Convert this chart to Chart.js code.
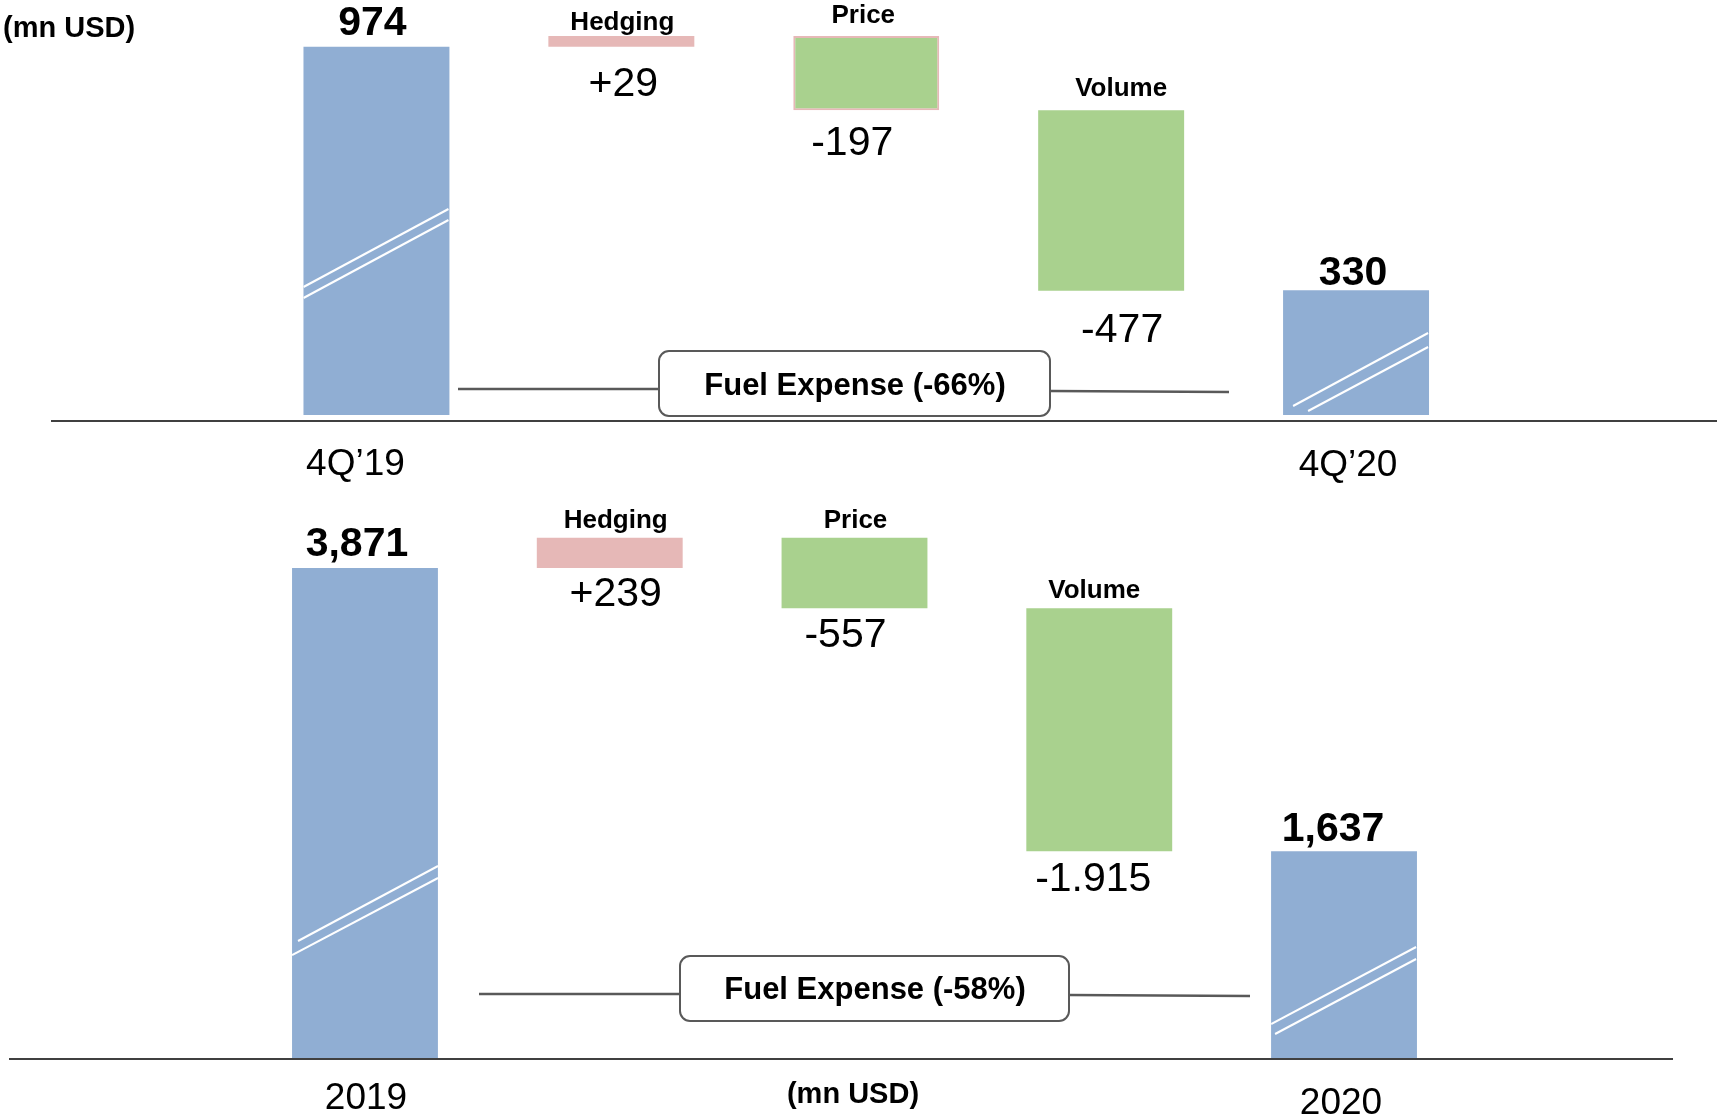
<!DOCTYPE html>
<html>
<head>
<meta charset="utf-8">
<script src="https://cdn.jsdelivr.net/npm/chart.js@4.4.1/dist/chart.umd.min.js"></script>
<style>
html, body { margin: 0; padding: 0; background: #fff; }
#wrap { position: relative; width: 1717px; height: 1115px; overflow: hidden; }
#wrap canvas { position: absolute; left: 0; }
</style>
</head>
<body>
<div id="wrap">
  <canvas id="topChart" width="1717" height="490" style="top:0"></canvas>
  <canvas id="bottomChart" width="1717" height="625" style="top:490px"></canvas>
</div>
<script>
// quarter bridge
var topCategories = ["4Q\u201919", "Hedging", "Price", "Volume", "4Q\u201920"];
var topValues = [974, 29, -197, -477, 330];
var topValueText = ["974", "+29", "-197", "-477", "330"];
var topNote = "Fuel Expense (-66%)";

// full year bridge
var bottomCategories = ["2019", "Hedging", "Price", "Volume", "2020"];
var bottomValues = [3871, 239, -557, -1915, 1637];
var bottomValueText = ["3,871", "+239", "-557", "-1.915", "1,637"];
var bottomNote = "Fuel Expense (-58%)";

var barKinds = ["total", "up", "down", "down", "total"];
var unitText = "(mn USD)";

var palette = { total: '#90AED3', up: '#E6B8B7', down: '#A9D18E' };
var FONT = '"Liberation Sans", Arial, sans-serif';

function buildRanges(values) {
    var run = 0, out = [];
    values.forEach(function (v, i) {
        if (barKinds[i] === 'total') { out.push([0, v]); run = v; }
        else { out.push([run, run + v]); run += v; }
    });
    return out;
}

var topLayout = {
    top: 0, padLeft: 254, padRight: 238.5, padBottom: 75, yMax: 1098,
    axisGap: 6, axisX0: 51, axisX1: 1717, axisBase: [475, 0, 0, 0, 476],
    valueGap: [12, 49, 44.5, 51, 5], nameGap: [0, 6, 13, 14, 0],
    valueDx: [-4, 2, -14, 11, -3], nameDx: [0, 1, -3, 10, 0], axisDx: [-21, 0, 0, 0, -8],
    box: { x: 659, y: 351, w: 391, h: 65, tx: 855, ty: 395 },
    leftLine: [458, 389, 659, 389], rightLine: [1050, 391, 1229, 392],
    unit: { x: 3, y: 37, align: 'left' },
    priceBorder: true,
    breaks: [
        { i: 0, lines: [[0, 128, 145, 206], [0, 117, 145, 195]] },
        { i: 4, lines: [[10, 9, 145, 82], [25, 4, 145, 68]] }
    ]
};

var bottomLayout = {
    top: 490, padLeft: 242.6, padRight: 250.6, padBottom: 56, yMax: 4486,
    axisGap: 0, axisX0: 9, axisX1: 1673, axisBase: [1109, 0, 0, 0, 1114],
    valueGap: [12, 38, 39, 40, 10], nameGap: [0, 10, 10, 10, 0],
    valueDx: [-8, 6, -9, -6, -11], nameDx: [0, 6, 1, -5, 0], axisDx: [1, 0, 0, 0, -3],
    box: { x: 680, y: 956, w: 389, h: 65, tx: 875, ty: 999 },
    leftLine: [479, 994, 680, 994], rightLine: [1069, 995, 1250, 996],
    unit: { x: 853, y: 1103, align: 'center' },
    priceBorder: false,
    breaks: [
        { i: 0, lines: [[6, 118, 146, 193], [0, 104, 146, 181]] },
        { i: 4, lines: [[0, 35, 145, 112], [4, 25, 145, 100]] }
    ]
};

function makeChart(id, cats, values, valueText, note, L) {
    var ranges = buildRanges(values);

    var textPlugin = {
        id: 'bridgeText',
        afterDatasetsDraw: function (chart) {
            var ctx = chart.ctx, meta = chart.getDatasetMeta(0), ys = chart.scales.y;
            var zero = ys.getPixelForValue(0);
            ctx.save();

            // white break marks on the total bars
            L.breaks.forEach(function (b) {
                var el = meta.data[b.i];
                var left = el.x - el.width / 2;
                var top = ys.getPixelForValue(ranges[b.i][1]);
                ctx.save();
                ctx.beginPath();
                ctx.rect(left, top, el.width, zero - top);
                ctx.clip();
                ctx.strokeStyle = '#fff';
                ctx.lineWidth = 2;
                b.lines.forEach(function (ln) {
                    ctx.beginPath();
                    ctx.moveTo(left + ln[0], zero - ln[1]);
                    ctx.lineTo(left + ln[2], zero - ln[3]);
                    ctx.stroke();
                });
                ctx.restore();
            });

            // bar labels
            ctx.fillStyle = '#000';
            ctx.textAlign = 'center';
            ctx.textBaseline = 'alphabetic';
            cats.forEach(function (c, i) {
                var el = meta.data[i];
                var hi = ys.getPixelForValue(Math.max(ranges[i][0], ranges[i][1]));
                var lo = ys.getPixelForValue(Math.min(ranges[i][0], ranges[i][1]));
                if (barKinds[i] === 'total') {
                    ctx.font = 'bold 41px ' + FONT;
                    ctx.fillText(valueText[i], el.x + L.valueDx[i], hi - L.valueGap[i]);
                    ctx.font = '37px ' + FONT;
                    ctx.fillText(c, el.x + L.axisDx[i], L.axisBase[i] - L.top);
                } else {
                    ctx.font = 'bold 26px ' + FONT;
                    ctx.fillText(c, el.x + L.nameDx[i], hi - L.nameGap[i]);
                    ctx.font = '41px ' + FONT;
                    ctx.fillText(valueText[i], el.x + L.valueDx[i], lo + L.valueGap[i]);
                }
            });

            // base line
            ctx.strokeStyle = '#404040';
            ctx.lineWidth = 2;
            ctx.beginPath();
            ctx.moveTo(L.axisX0, zero + L.axisGap);
            ctx.lineTo(L.axisX1, zero + L.axisGap);
            ctx.stroke();

            // page positioned bits
            ctx.translate(0, -L.top);
            ctx.strokeStyle = '#595959';
            ctx.lineWidth = 2.5;
            [L.leftLine, L.rightLine].forEach(function (ln) {
                ctx.beginPath();
                ctx.moveTo(ln[0], ln[1]);
                ctx.lineTo(ln[2], ln[3]);
                ctx.stroke();
            });
            ctx.lineWidth = 2;
            ctx.fillStyle = '#fff';
            ctx.beginPath();
            ctx.roundRect(L.box.x, L.box.y, L.box.w, L.box.h, 10);
            ctx.fill();
            ctx.stroke();
            ctx.fillStyle = '#000';
            ctx.font = 'bold 31px ' + FONT;
            ctx.fillText(note, L.box.tx, L.box.ty);

            ctx.font = 'bold 29px ' + FONT;
            ctx.textAlign = L.unit.align;
            ctx.fillText(unitText, L.unit.x, L.unit.y);

            ctx.restore();
        }
    };

    var colors = barKinds.map(function (k) { return palette[k]; });
    var borders = barKinds.map(function (k, i) { return (L.priceBorder && i === 2) ? palette.up : palette[k]; });
    var widths = barKinds.map(function (k, i) { return (L.priceBorder && i === 2) ? 2 : 0; });

    return new Chart(document.getElementById(id), {
        type: 'bar',
        data: {
            labels: cats,
            datasets: [{
                data: ranges,
                backgroundColor: colors,
                borderColor: borders,
                borderWidth: widths,
                borderSkipped: false,
                barPercentage: 0.596,
                categoryPercentage: 1
            }]
        },
        options: {
            responsive: false,
            animation: false,
            layout: { padding: { left: L.padLeft, right: L.padRight, top: 0, bottom: L.padBottom } },
            scales: {
                x: { display: false },
                y: { display: false, min: 0, max: L.yMax }
            },
            plugins: { legend: { display: false }, tooltip: { enabled: false } }
        },
        plugins: [textPlugin]
    });
}

makeChart('topChart', topCategories, topValues, topValueText, topNote, topLayout);
makeChart('bottomChart', bottomCategories, bottomValues, bottomValueText, bottomNote, bottomLayout);
</script>
</body>
</html>
